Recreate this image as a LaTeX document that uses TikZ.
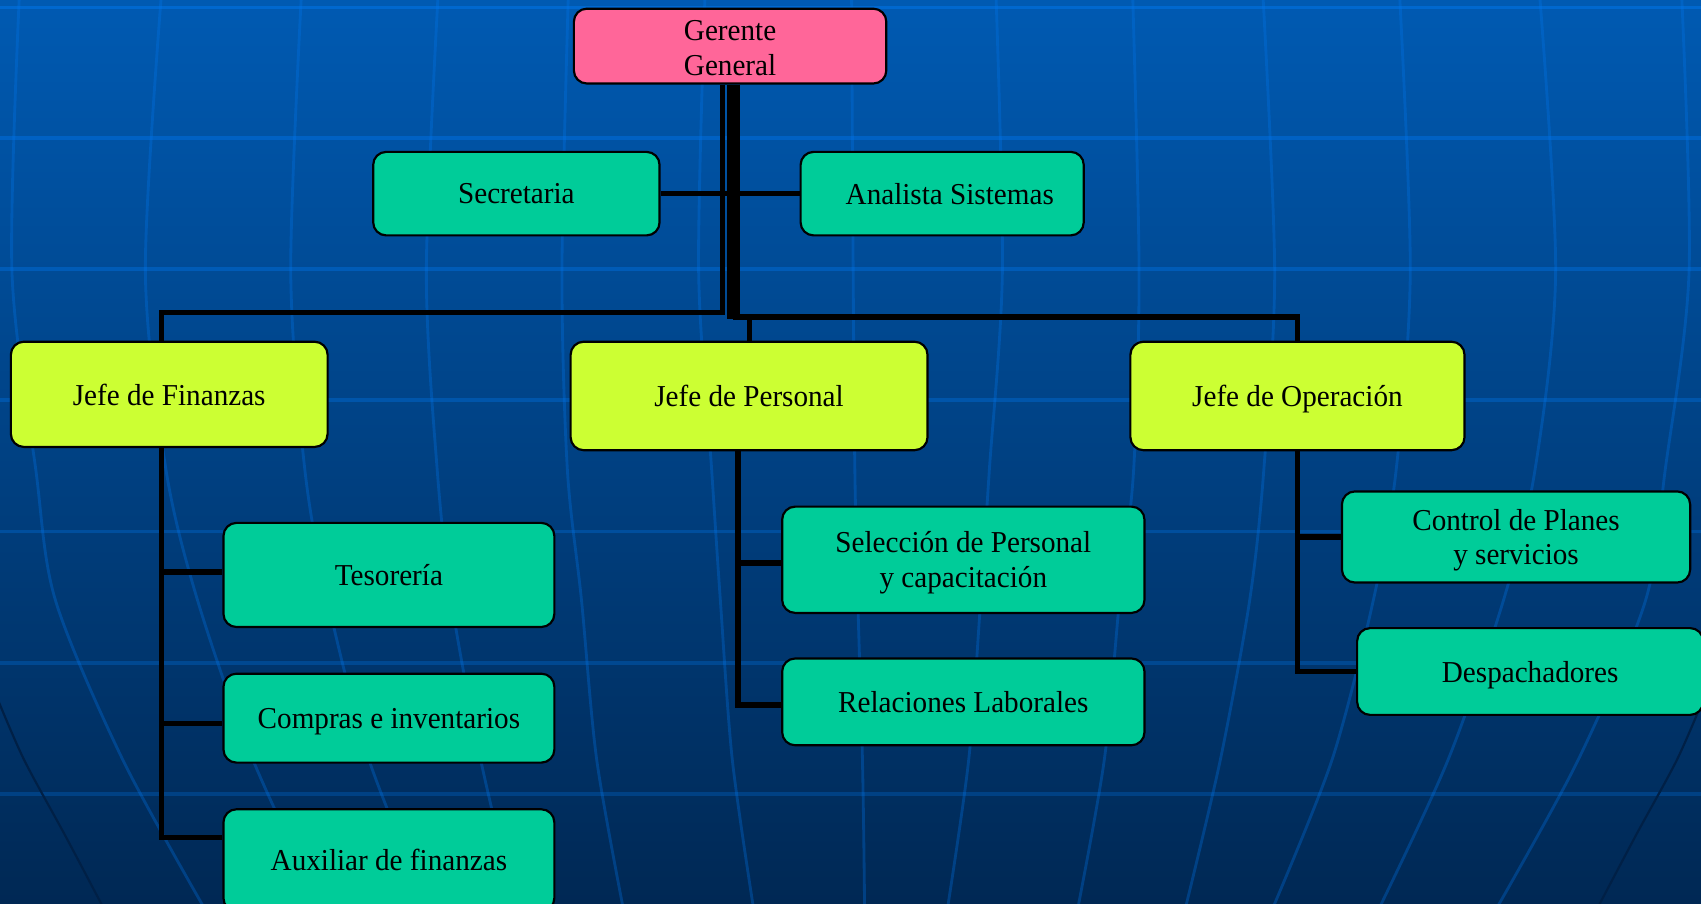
\documentclass[tikz,border=0pt]{standalone}
\usepackage{fontspec}
\setmainfont{Liberation Serif}[FakeStretch=0.96]
\definecolor{bgtop}{RGB}{0,90,178}
\definecolor{bgbot}{RGB}{0,40,84}
\definecolor{hltop}{RGB}{0,104,208}
\definecolor{hlbot}{RGB}{0,60,122}
\definecolor{gridc}{RGB}{0,120,240}
\definecolor{edgec}{RGB}{0,32,70}
\definecolor{pinkbox}{RGB}{255,102,153}
\definecolor{limebox}{RGB}{204,255,51}
\definecolor{tealbox}{RGB}{0,204,153}
\newcommand\mymer[6]{%
  \draw[merid] plot[smooth] coordinates {(784+#1,-8) (784+#2,250) (784+#3,433) (784+#4,553) (784+#5,700) (784+#6,840)};
  \draw[merid] plot[smooth] coordinates {(784-#1,-8) (784-#2,250) (784-#3,433) (784-#4,553) (784-#5,700) (784-#6,840)};}
\begin{document}
\begin{tikzpicture}[x=0.5pt,y=-0.5pt,
  box/.style={draw=black, line width=1pt, rounded corners=6pt, inner sep=0pt,
    align=center, text depth=0pt, font=\fontsize{14}{16}\selectfont},
  conn/.style={line width=2.6pt, draw=black},
  merid/.style={line width=1.3pt, draw=gridc, draw opacity=0.3},
  hline/.style={line width=1.7pt}]
\useasboundingbox (0,0) rectangle (1568,833);
\shade[top color=bgtop, bottom color=bgbot] (0,0) rectangle (1568,833);
\begin{scope}
  \clip (0,0) rectangle (1568,833);
  \foreach \yy/\pp in {7/99,127/85,248/70,369/56,490/41,611/27,732/12}
    \draw[hline, draw=hltop!\pp!hlbot] (-5,\yy) -- (1575,\yy);
  \draw[merid] plot[smooth] coordinates {(785,-8) (788,433) (795,700) (797,840)};
  \mymer{134}{140}{128}{120}{109}{89}
  \mymer{260}{266}{261}{248}{234}{209}
  \mymer{380}{391}{381}{368}{341}{308}
  \mymer{506}{516}{503}{482}{444}{388}
  \mymer{635}{650}{631}{602}{551}{486}
  \mymer{766}{773}{751}{733}{671}{594}
  \draw[line width=1pt, draw=edgec] plot[smooth] coordinates {(-4,640) (22,700) (60,770) (97,840)};
  \draw[line width=1pt, draw=edgec] plot[smooth] coordinates {(1572,640) (1546,700) (1508,770) (1471,840)};
\end{scope}

% nodes
\node[box, fill=pinkbox, minimum width=144pt, minimum height=34.5pt] (ger) at (673,42.5) {\rule{0pt}{11pt}Gerente\\General};
\node[box, fill=tealbox, minimum width=132pt, minimum height=38.5pt] (sec) at (476,178.5) {Secretaria};
\node[box, fill=tealbox, minimum width=130.5pt, minimum height=38.5pt] (ana) at (868.5,178.5) {\hspace*{7pt}Analista Sistemas};
\node[box, fill=limebox, minimum width=146pt, minimum height=48.5pt] (jf) at (156,363.5) {Jefe de Finanzas};
\node[box, fill=limebox, minimum width=164.5pt, minimum height=50pt] (jp) at (690.5,365) {Jefe de Personal};
\node[box, fill=limebox, minimum width=154pt, minimum height=50pt] (jo) at (1196,365) {Jefe de Operación};
\node[box, fill=tealbox, minimum width=152.5pt, minimum height=48pt] (tes) at (358.5,530) {Tesorería};
\node[box, fill=tealbox, minimum width=152.5pt, minimum height=41pt] (com) at (358.5,662) {Compras e inventarios};
\node[box, fill=tealbox, minimum width=152.5pt, minimum height=47pt] (aux) at (358.5,793) {Auxiliar de finanzas};
\node[box, fill=tealbox, minimum width=167pt, minimum height=49pt] (sel) at (888,516) {Selección de Personal\\y capacitación};
\node[box, fill=tealbox, minimum width=167pt, minimum height=40pt] (rel) at (888,647) {Relaciones Laborales};
\node[box, fill=tealbox, minimum width=160.5pt, minimum height=42pt] (con) at (1397.5,495) {Control de Planes\\y servicios};
\node[box, fill=tealbox, minimum width=159.5pt, minimum height=40pt] (des) at (1410.5,619) {Despachadores};

% junction coordinates
\coordinate (xA) at (666,0);
\coordinate (xB) at (676,0);
\coordinate (xP) at (691,0);
\coordinate (xF) at (149,0);
\coordinate (xO) at (1196,0);
\coordinate (xS) at (680,0);
\coordinate (yA) at (0,288);
\coordinate (yB) at (0,292);
\coordinate (yBb) at (0,294.5);
\coordinate (yTes) at (0,527);
\coordinate (yCom) at (0,667);
\coordinate (yAux) at (0,772);
\coordinate (ySel) at (0,519);
\coordinate (yRel) at (0,650);

% connectors from the top
\draw[conn] (ger.south -| xA) -- (xA |- yA) -- (xF |- yA) -- (jf.north -| xF);
\draw[line width=6pt] (ger.south -| xB) -- (xB |- yBb);
\draw[conn] (xB |- yB) -- (xO |- yB) -- (jo.north -| xO);
\draw[conn] (xP |- yB) -- (jp.north -| xP);
\draw[conn] (sec.east) -- (ana.west);

% Finanzas
\draw[conn] (jf.south -| xF) -- (xF |- yAux) -- (aux.west |- yAux);
\draw[conn] (xF |- yTes) -- (tes.west |- yTes);
\draw[conn] (xF |- yCom) -- (com.west |- yCom);

% Personal
\draw[conn] (jp.south -| xS) -- (xS |- yRel) -- (rel.west |- yRel);
\draw[conn] (xS |- ySel) -- (sel.west |- ySel);

% Operacion
\draw[conn] (jo.south -| xO) -- (xO |- des.west) -- (des.west);
\draw[conn] (xO |- con.west) -- (con.west);
\end{tikzpicture}
\end{document}
